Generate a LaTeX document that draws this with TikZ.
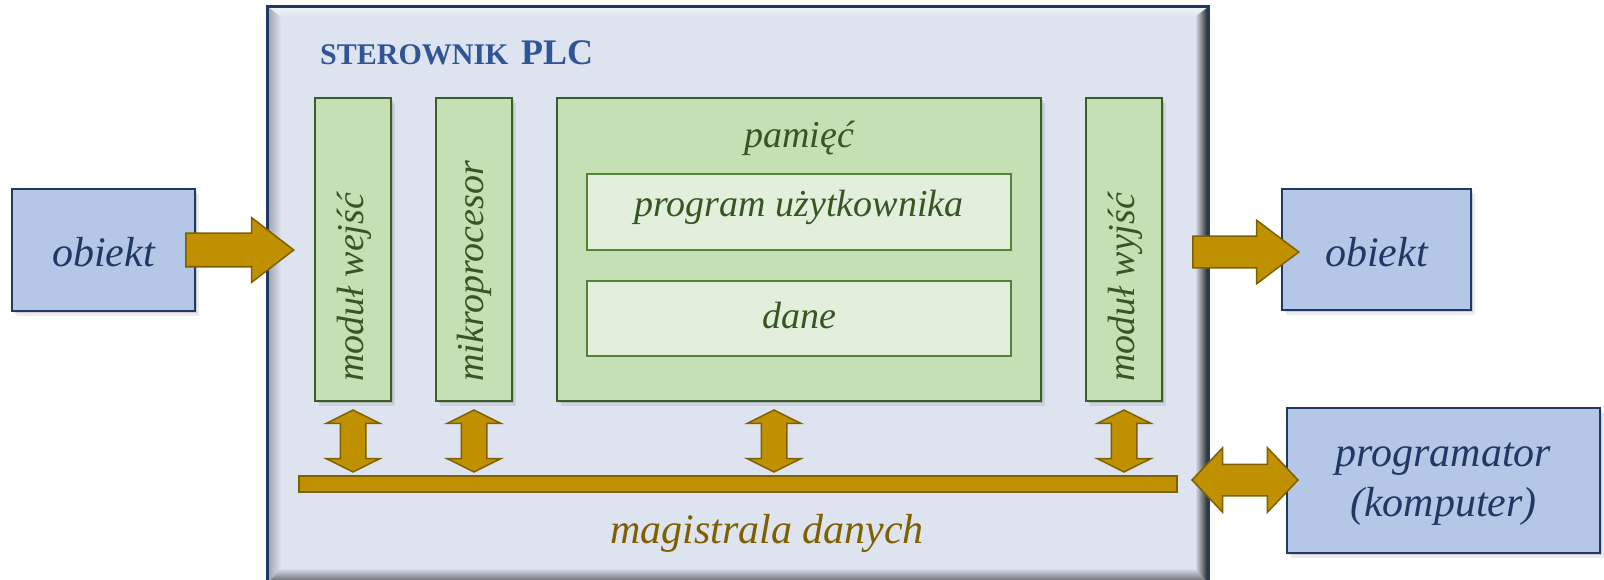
\documentclass[tikz,border=0pt]{standalone}
\usepackage{fontspec}
\setmainfont{Liberation Serif}
\usetikzlibrary{shapes.arrows,shadows,positioning}

\definecolor{obiektFill}{HTML}{B4C7E7}
\definecolor{obiektLine}{HTML}{203864}
\definecolor{plcFill}{HTML}{DDE4EF}
\definecolor{plcLine}{HTML}{1F3864}
\definecolor{tytulCol}{HTML}{2F5597}
\definecolor{modFill}{HTML}{C5E0B4}
\definecolor{modLine}{HTML}{3B5D27}
\definecolor{memFill}{HTML}{E2EFDA}
\definecolor{memLine}{HTML}{548235}
\definecolor{modText}{HTML}{375623}
\definecolor{busFill}{HTML}{BF9000}
\definecolor{busLine}{HTML}{7F6000}

\begin{document}
\begin{tikzpicture}[x=1pt, y=-1pt]
		\tikzstyle{Cien}	= [drop shadow={shadow xshift=2pt, shadow yshift=-2pt, opacity=0.12, fill=black},
						   drop shadow={shadow xshift=4pt, shadow yshift=-5pt, opacity=0.08, fill=black}]
		\tikzstyle{Obiekt}	= [rectangle, draw=obiektLine, line width=2.5pt, fill=obiektFill, Cien]
		\tikzstyle{ObTekst}	= [inner sep=0pt, text=obiektLine, align=center, font=\fontsize{42}{50}\selectfont\itshape]
		\tikzstyle{Modul}	= [rectangle, draw=modLine, line width=2pt, fill=modFill, Cien, minimum height=303pt, inner sep=0pt]
		\tikzstyle{Pole}	= [rectangle, draw=memLine, line width=1.5pt, fill=memFill, minimum width=424pt, minimum height=76pt]
		\tikzstyle{ModTekst}	= [inner sep=0pt, text=modText, font=\fontsize{38}{44}\selectfont\itshape]
		\tikzstyle{Zloto}	= [fill=busFill, draw=busLine, line width=1.5pt, inner sep=0pt]
		\tikzstyle{Strzalka}	= [Zloto, single arrow, anchor=tail, inner ysep=16pt, single arrow head extend=15.5pt, single arrow tip angle=75]
		\tikzstyle{Dwustrzalka}	= [Zloto, double arrow, rotate=90, inner ysep=12pt, minimum height=62pt, double arrow head extend=14pt, double arrow tip angle=127]

		\useasboundingbox (0,0) rectangle (1604,580);

		% obiekty i programator
		\node (obL) at (103.5, 250) [Obiekt, minimum width=183pt, minimum height=122pt] {};
		\node (obR) at (1376.5, 249.5) [Obiekt, minimum width=189pt, minimum height=121pt] {};
		\node (prog) at (1443.5, 480.5) [Obiekt, minimum width=313pt, minimum height=145pt] {};
		\node (tObL) at (103.5, 266) [ObTekst, anchor=base] {obiekt};
		\node (tObR) at (1376.5, 266) [ObTekst, anchor=base] {obiekt};
		\node (tProgr) at (1443.5, 484) [ObTekst] {programator\\(komputer)};

		% obudowa sterownika z fazowaniem
		\node (plc) at (738, 295) [rectangle, fill=plcFill, minimum width=940pt, minimum height=576pt] {};
		\shade[top color=white!60!plcFill, bottom color=plcFill] (268,7) -- (1208,7) -- (1196,17) -- (281,17) -- cycle;
		\shade[left color=black!28!plcFill, right color=plcFill] (268,7) -- (281,17) -- (281,570) -- (268,583) -- cycle;
		\shade[left color=plcFill, right color=black!85!plcFill] (1208,7) -- (1208,583) -- (1195,570) -- (1195,17) -- cycle;
		\shade[top color=plcFill, bottom color=black!60!plcFill] (268,583) -- (281,568) -- (1195,568) -- (1208,583) -- cycle;
		\draw[plcLine, line width=3pt] (plc.north west) rectangle (plc.south east);

		\node (tytul) at (320, 65) [anchor=base west, inner sep=0pt, text=tytulCol, font=\bfseries] {\fontsize{30}{36}\selectfont STEROWNIK\hspace{5pt} \fontsize{36}{42}\selectfont PLC};

		% moduly
		\node (modWe) at (353, 249.5) [Modul, minimum width=76pt] {};
		\node (mikro) at (474, 249.5) [Modul, minimum width=76pt] {};
		\node (pamiec) at (799, 249.5) [Modul, minimum width=484pt] {};
		\node (modWy) at (1124, 249.5) [Modul, minimum width=76pt] {};
		\node (program) at (799, 212) [Pole] {};
		\node (dane) at (799, 318.5) [Pole, minimum height=75pt] {};

		\node (tWe) at (363, 382) [ModTekst, rotate=90, anchor=base west] {moduł wejść};
		\node (tMikro) at (483, 382) [ModTekst, rotate=90, anchor=base west] {mikroprocesor};
		\node (tWy) at (1134, 382) [ModTekst, rotate=90, anchor=base west] {moduł wyjść};
		\node (tPam) at (799, 148) [ModTekst, anchor=base] {pamięć};
		\node (tProg) at (799, 217) [ModTekst, anchor=base] {program użytkownika};
		\node (tDane) at (799, 328) [ModTekst, anchor=base] {dane};

		% magistrala
		\node (bus) at (738, 484) [Zloto, rectangle, minimum width=878pt, minimum height=16pt] {};
		\node (tBus) at (767, 543) [anchor=base, inner sep=0pt, text=busLine, font=\fontsize{42}{50}\selectfont\itshape] {magistrala danych};

		\node (dWe) at (353, 441) [Dwustrzalka] {};
		\node (dMikro) at (474, 441) [Dwustrzalka] {};
		\node (dPam) at (774, 441) [Dwustrzalka] {};
		\node (dWy) at (1124, 441) [Dwustrzalka] {};
		\node (dProg) at (1245, 480) [Dwustrzalka, rotate=-90, inner ysep=15pt, minimum height=106pt, double arrow head extend=16.5pt, double arrow tip angle=93] {};

		% wejscie i wyjscie
		\node (sWe) at (185, 250) [Strzalka, minimum height=108pt] {};
		\node (sWy) at (1192, 252) [Strzalka, minimum height=106pt, inner ysep=15pt, single arrow head extend=16pt, single arrow tip angle=74] {};
	\end{tikzpicture}
\end{document}
